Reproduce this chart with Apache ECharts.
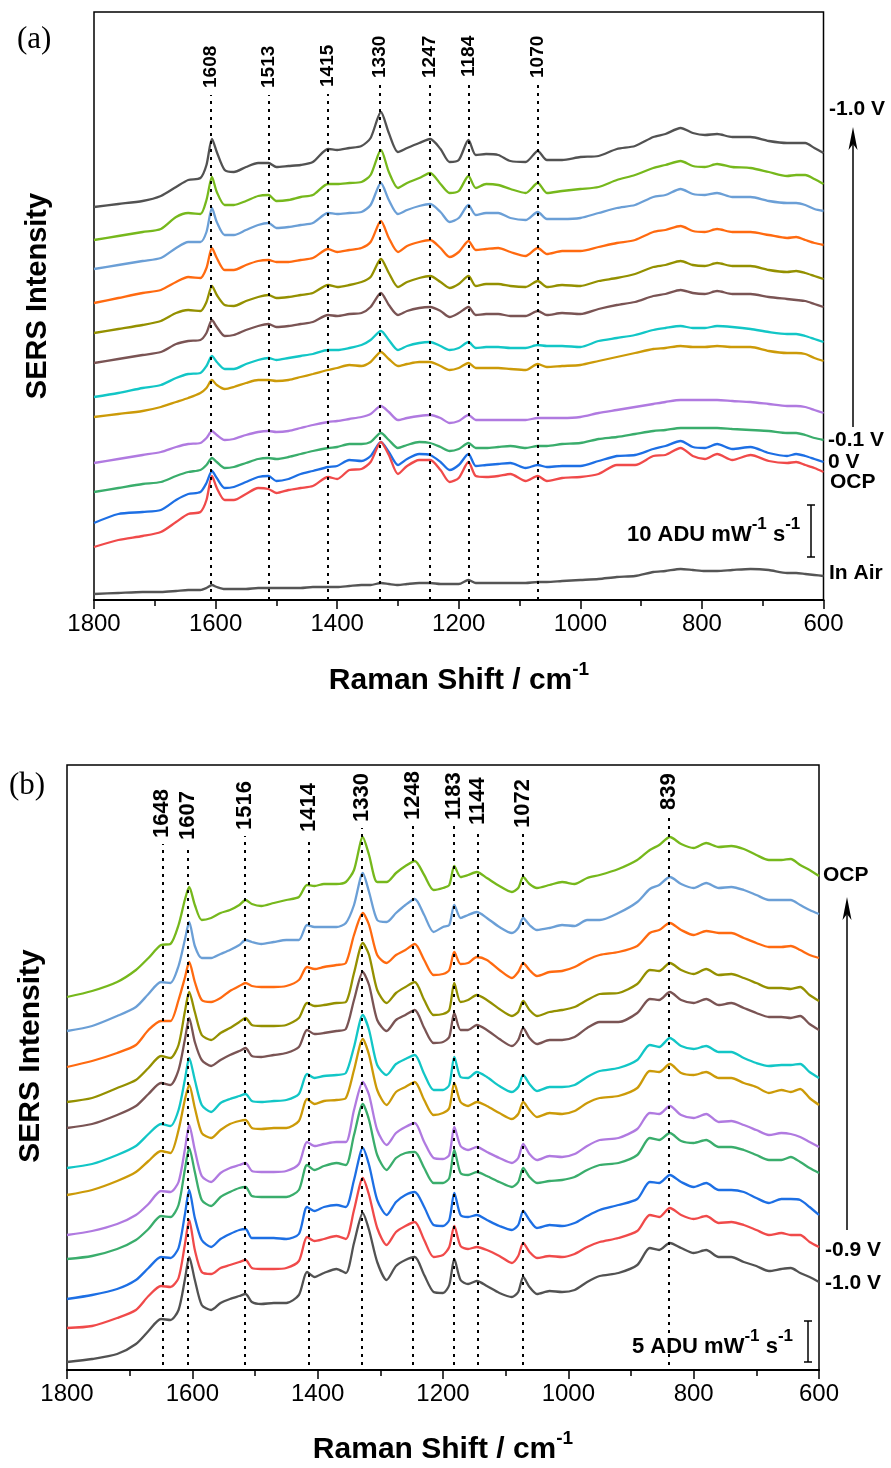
<!DOCTYPE html>
<html><head><meta charset="utf-8">
<script src="https://cdn.jsdelivr.net/npm/echarts@6/dist/echarts.min.js"></script>
<style>html,body{margin:0;padding:0;background:#fff}#c{width:891px;height:1468px}</style>
</head><body><div id="c"></div>
<script>
// ---------- Panel (a): Raman shift samples (cm-1) ----------
const wnA = [1800,1760,1720,1690,1665,1645,1625,1615,1606,1598,1585,1570,1550,1530,1513,1500,1480,1460,1440,1415,1400,1380,1360,1345,1328,1315,1300,1285,1265,1247,1230,1215,1200,1184,1172,1155,1135,1115,1090,1070,1055,1030,1000,970,940,910,880,860,835,815,795,775,750,720,690,660,645,630,615,600];
// intensities (arbitrary units, offset stacked as displayed)
const a_m10 = [393,396,399,404,413,420,422,435,461,448,430,428,433,437,437,433,434,435,438,451,450,452,454,462,488,467,448,452,457,461,451,438,440,460,445,446,445,439,438,449,440,440,443,444,451,454,463,466,472,467,465,466,463,463,459,457,457,457,452,447];
const a_m09 = [360,364,368,371,383,387,386,400,423,408,395,395,399,404,405,399,400,403,405,416,416,417,418,425,450,428,412,417,422,427,416,407,409,424,412,416,415,411,407,417,407,409,411,413,420,425,432,435,439,434,433,436,433,432,428,424,425,425,421,416];
const a_m08 = [331,335,339,342,352,358,358,368,392,378,365,365,370,375,377,372,373,375,377,387,386,387,388,395,417,400,386,390,394,396,388,378,382,395,385,387,387,382,380,388,381,381,382,387,392,395,403,405,411,406,405,407,403,403,399,397,397,395,391,389];
const a_m07 = [297,302,307,310,318,323,322,332,352,342,330,330,335,339,340,338,338,340,342,351,348,350,352,358,379,362,348,354,358,360,352,343,348,359,350,351,352,348,344,352,346,349,349,353,357,360,368,370,374,369,368,371,368,368,365,362,363,360,357,355];
const a_m06 = [267,271,275,279,287,290,289,298,314,305,295,294,299,303,305,302,303,305,307,315,313,315,318,323,341,327,313,318,322,324,318,312,316,324,314,316,316,314,313,319,313,315,314,319,322,326,333,335,339,335,334,337,334,334,330,328,329,327,324,321];
const a_m05 = [237,241,245,248,256,259,260,267,280,273,264,265,270,274,276,273,274,276,278,285,284,286,287,293,307,295,285,289,292,293,289,283,287,293,285,286,286,284,284,289,285,287,286,291,295,298,304,306,310,307,306,309,306,306,303,301,300,299,296,293];
const a_m04 = [203,207,212,215,222,226,227,234,244,238,231,231,236,240,242,240,242,244,246,250,250,252,255,260,269,260,250,254,257,258,254,250,252,258,252,253,253,252,252,255,254,254,253,259,262,265,270,272,274,272,272,274,273,271,268,266,266,264,261,258];
const a_m03 = [183,186,189,193,198,202,207,212,220,215,211,213,217,220,220,219,220,223,226,230,232,235,234,238,248,241,234,236,238,238,234,230,232,237,232,232,232,231,230,236,233,234,235,239,243,247,251,252,254,253,253,254,253,253,249,247,247,246,242,239];
const a_m02 = [137,141,145,148,153,156,157,162,169,165,160,161,165,168,169,168,169,172,175,178,179,181,183,186,194,188,180,182,184,185,182,177,179,185,180,180,180,180,180,182,182,182,183,187,190,193,196,198,200,200,200,200,199,198,196,194,194,193,190,187];
const a_m01 = [108,112,116,118,124,128,130,135,142,138,132,133,137,141,142,141,143,146,149,152,153,156,156,158,167,160,152,155,158,157,153,149,151,157,152,152,153,154,152,154,154,156,157,161,163,166,169,170,172,172,172,172,171,170,169,167,167,165,162,160];
const a_0V  = [77,86,88,90,100,106,108,117,129,122,112,113,118,123,124,119,121,126,129,133,134,140,139,144,158,148,135,141,146,145,138,130,135,146,134,135,136,137,132,135,133,134,134,139,144,145,151,154,159,153,152,156,151,153,147,144,146,144,141,138];
const a_ocp = [53,60,64,68,78,86,88,100,124,112,100,100,106,112,111,107,110,112,114,123,121,130,131,138,158,145,126,134,140,140,130,118,122,138,124,123,124,126,119,124,119,122,123,126,135,135,144,145,152,144,141,146,140,145,139,137,138,135,132,128];
const a_air = [6,7,8,8,9,10,10,12,15,13,11,11,11,12,12,12,12,12,13,13,13,14,15,15,17,16,15,16,17,17,16,16,16,20,17,17,17,17,17,18,18,19,20,21,23,24,28,29,31,30,29,29,30,31,30,27,27,26,25,24];
const peaksA = [1608,1513,1415,1330,1247,1184,1070];

// ---------- Panel (b) ----------
const wnB = [1800,1760,1720,1690,1670,1650,1635,1622,1612,1605,1596,1585,1570,1555,1540,1525,1515,1505,1490,1470,1450,1430,1417,1405,1390,1370,1355,1342,1328,1318,1305,1290,1275,1260,1245,1230,1215,1200,1190,1182,1172,1160,1146,1130,1110,1090,1080,1072,1062,1050,1030,1010,990,970,950,920,890,870,855,838,820,800,780,760,740,720,700,680,660,645,630,615,600];
const b_ocp = [373,379,388,400,412,425,426,445,470,483,465,450,452,457,460,465,470,466,464,467,470,473,485,484,486,486,488,500,533,515,488,488,497,504,509,495,480,482,485,504,493,495,498,492,484,478,482,493,486,482,485,488,486,492,495,501,510,520,525,533,526,522,527,523,524,521,515,510,510,511,505,500,494];
const b_0V  = [339,344,354,363,376,388,387,404,430,448,424,412,412,416,420,425,430,428,426,428,430,430,445,443,443,443,447,465,497,478,450,448,457,465,471,455,438,443,445,465,452,455,458,452,443,437,442,452,445,440,442,445,444,450,450,457,468,481,485,493,486,482,487,482,483,480,475,470,470,470,465,460,456];
const b_m01 = [303,309,317,325,340,349,349,370,392,408,388,370,368,372,379,384,387,384,383,383,384,390,403,401,403,405,407,435,457,445,415,407,415,420,426,410,395,396,400,418,406,407,413,410,400,392,398,407,400,394,398,399,403,410,415,418,424,437,440,447,440,435,439,437,437,432,427,423,423,424,420,415,412];
const b_m02 = [268,272,282,290,302,314,312,325,358,378,358,335,330,337,342,348,352,345,344,344,345,352,367,364,365,367,368,397,427,415,380,367,377,383,388,370,355,356,360,387,368,370,375,370,361,354,358,369,360,354,358,360,363,370,376,377,386,400,399,407,400,396,401,395,396,392,387,382,382,381,383,375,369];
const b_m03 = [242,246,255,264,276,287,285,300,330,352,328,310,304,310,315,319,322,314,313,315,317,323,340,336,337,339,341,370,398,385,350,339,350,355,360,342,327,328,333,357,340,340,345,340,331,324,330,342,332,326,330,330,333,342,348,348,357,371,370,378,370,367,371,365,367,362,357,353,353,352,354,346,340];
const b_m04 = [202,206,215,224,236,246,244,260,290,312,290,265,258,267,271,274,276,269,268,269,270,276,296,292,294,295,297,323,355,340,305,295,306,311,315,296,280,280,285,313,293,292,298,293,284,278,283,295,286,279,283,283,285,293,299,302,310,325,323,332,324,321,324,318,318,312,307,304,305,305,306,298,292];
const b_m05 = [175,180,189,198,209,219,217,240,270,285,262,237,232,240,246,249,250,242,241,242,242,249,271,266,269,270,272,300,331,315,280,265,278,283,288,270,255,257,262,287,268,264,268,264,257,251,256,268,260,253,257,256,259,267,272,274,282,299,298,306,297,295,298,292,292,287,283,277,280,278,281,272,265];
const b_m06 = [135,139,146,155,166,179,178,188,220,245,220,194,188,197,202,205,207,199,198,198,199,206,228,224,226,228,228,260,288,275,240,225,237,243,247,228,212,211,215,243,224,220,223,218,212,207,212,226,216,210,214,213,216,224,230,232,241,257,256,264,255,252,256,248,249,245,240,235,237,236,233,228,223];
const b_m07 = [111,114,121,130,141,154,153,165,200,222,198,170,164,173,178,182,183,174,173,173,173,180,205,200,204,207,205,235,266,250,215,200,212,217,218,202,187,187,192,220,197,195,198,194,188,183,188,202,193,187,189,190,193,200,205,207,215,232,230,237,229,227,230,223,223,220,215,210,210,213,208,202,197];
const b_m08 = [71,75,81,90,102,113,112,122,155,180,152,130,123,131,136,140,141,132,132,132,131,136,163,159,163,165,163,190,222,205,170,155,168,175,178,163,145,144,150,177,155,153,155,150,144,140,145,159,150,142,145,144,147,154,160,165,171,188,187,195,188,183,187,180,180,178,172,167,171,171,170,163,155];
const b_m09 = [42,44,52,60,74,84,83,92,125,150,120,98,96,102,105,108,110,102,101,101,102,109,133,129,131,134,131,160,192,175,142,125,138,144,148,130,113,115,123,144,124,121,123,120,114,107,114,127,118,112,114,113,116,123,128,132,139,155,153,162,155,151,154,147,148,145,140,135,137,135,135,128,123];
const b_m10 = [8,11,16,26,39,51,50,60,90,113,90,65,60,67,71,74,76,68,66,67,67,75,98,93,97,101,97,127,157,140,108,90,104,110,113,95,78,77,85,111,90,86,89,84,77,73,78,93,83,76,79,78,80,88,94,97,105,122,120,127,122,117,120,113,113,108,104,99,101,102,97,93,88];
const peaksB = [1648,1607,1516,1414,1330,1248,1183,1144,1072,839];

// ---------- styling / layout ----------
const colA = ['#525252','#76b81c','#6b9fd6','#ff6a10','#949000','#7a5454','#12c6c6','#cc9a08','#b07ae0','#3aad6c','#1d6fe4','#f04a4a','#555555'];
const seriesA = [a_m10,a_m09,a_m08,a_m07,a_m06,a_m05,a_m04,a_m03,a_m02,a_m01,a_0V,a_ocp,a_air];
const colB = ['#76b81c','#6b9fd6','#ff6a10','#949000','#7a5454','#12c6c6','#cc9a08','#b07ae0','#3aad6c','#1d6fe4','#f04a4a','#525252'];
const seriesB = [b_ocp,b_0V,b_m01,b_m02,b_m03,b_m04,b_m05,b_m06,b_m07,b_m08,b_m09,b_m10];

const FONT = '"Liberation Sans", Arial, sans-serif';
const chart = echarts.init(document.getElementById('c'), null, {renderer:'canvas'});

function xAx(gi){
  return {gridIndex:gi, type:'value', min:600, max:1800, interval:200, inverse:true,
    axisLine:{show:true, onZero:false, lineStyle:{color:'#000', width:2}},
    axisTick:{show:true, inside:false, length:9, lineStyle:{color:'#000', width:1.5}},
    minorTick:{show:true, splitNumber:2, length:6, lineStyle:{color:'#000', width:1.5}},
    axisLabel:{fontSize:24, fontFamily:FONT, color:'#000', margin:12, formatter:v=>String(v)},
    splitLine:{show:false}, minorSplitLine:{show:false}};
}
function mk(vals, wn, col, gi){
  return {type:'line', xAxisIndex:gi, yAxisIndex:gi, data: wn.map((x,i)=>[x, vals[i]]),
    showSymbol:false, smooth:0.25, lineStyle:{color:col, width:2.3}, itemStyle:{color:col},
    silent:true, animation:false, z:2};
}
const series = [];
seriesA.forEach((v,i)=>series.push(mk(v, wnA, colA[i], 0)));
seriesB.forEach((v,i)=>series.push(mk(v, wnB, colB[i], 1)));

chart.setOption({
  animation:false,
  grid:[
    {left:94, top:12, width:729.5, height:588, show:true, borderColor:'#000', borderWidth:1.5, backgroundColor:'transparent'},
    {left:67, top:765, width:752, height:605, show:true, borderColor:'#000', borderWidth:1.5, backgroundColor:'transparent'}
  ],
  xAxis:[xAx(0), xAx(1)],
  yAxis:[{gridIndex:0, type:'value', min:0, max:588, show:false},
         {gridIndex:1, type:'value', min:0, max:605, show:false}],
  series: series
});

// ---------- annotations ----------
const ctx = document.createElement('canvas').getContext('2d');
function tw(t, f){ ctx.font = f; return ctx.measureText(t).width; }
function bold(s){ return 'bold ' + s + 'px ' + FONT; }
function T(x, y, text, font, align, rot){
  return {type:'text', x:x, y:y, rotation:rot||0, silent:true, z:10,
    style:{text:text, font:font, fill:'#000', textAlign:align||'left', textVerticalAlign:'middle'}};
}
// pieces: [text, size, dy]
function line(x, cy, pieces, center){
  let total = 0; pieces.forEach(p=>{ total += tw(p[0], bold(p[1])); });
  let cx = center ? x - total/2 : x;
  const out = [];
  pieces.forEach(p=>{ out.push(T(cx, cy + (p[2]||0), p[0], bold(p[1]))); cx += tw(p[0], bold(p[1])); });
  return out;
}
function L(x1,y1,x2,y2,w){ return {type:'line', silent:true, z:10, shape:{x1,y1,x2,y2}, style:{stroke:'#000', lineWidth:w||1.5}}; }
function arrowUp(x, tip, bottom){
  return [L(x, tip+6, x, bottom, 1.5),
    {type:'polygon', silent:true, z:10, shape:{points:[[x,tip],[x-4.5,tip+23],[x,tip+17],[x+4.5,tip+23]]}, style:{fill:'#000'}}];
}
function scaleBar(x, y1, y2){
  return [L(x,y1,x,y2,1.5), L(x-4,y1,x+4,y1,1.5), L(x-4,y2,x+4,y2,1.5)];
}

const labBotA = [88,88,87,78,78,77,78];
const labBotB = [838,840,830,832,822,820,820,825,828,810];
const g = [];
const mlA = [], mlB = [];
peaksA.forEach((p,i)=>{
  const px = chart.convertToPixel({gridIndex:0}, [p, 0]);
  const top = chart.convertFromPixel({gridIndex:0}, [px[0], labBotA[i] + 7])[1];
  mlA.push([{coord:[p, 0]}, {coord:[p, top]}]);
  g.push(T(px[0], labBotA[i], String(p), bold(19), 'left', Math.PI/2));
});
peaksB.forEach((p,i)=>{
  const px = chart.convertToPixel({gridIndex:1}, [p, 0]);
  const top = chart.convertFromPixel({gridIndex:1}, [px[0], labBotB[i] + 6])[1];
  const bot = chart.convertFromPixel({gridIndex:1}, [px[0], 1365])[1];
  mlB.push([{coord:[p, bot]}, {coord:[p, top]}]);
  g.push(T(px[0], labBotB[i], String(p), bold(22), 'left', Math.PI/2));
});

// panel letters
g.push(T(17, 40, '(a)', '31px "Liberation Serif", "Times New Roman", serif'));
g.push(T(9, 786, '(b)', '31px "Liberation Serif", "Times New Roman", serif'));
// y titles
g.push(T(38, 296, 'SERS Intensity', bold(29), 'center', Math.PI/2));
g.push(T(31, 1056, 'SERS Intensity', bold(30), 'center', Math.PI/2));
// x titles
line(459, 681, [['Raman Shift / cm',30,0],['-1',19,-11]], true).forEach(e=>g.push(e));
line(443, 1450, [['Raman Shift / cm',30,0],['-1',19,-11]], true).forEach(e=>g.push(e));
// right labels panel a
g.push(T(829, 109, '-1.0 V', bold(21)));
g.push(T(828, 440, '-0.1 V', bold(21)));
g.push(T(828, 462, '0 V', bold(21)));
g.push(T(830, 482, 'OCP', bold(21)));
g.push(T(829, 573, 'In Air', bold(21)));
arrowUp(853, 127, 427).forEach(e=>g.push(e));
scaleBar(811, 505, 557).forEach(e=>g.push(e));
line(627, 535, [['10 ADU mW',22,0],['-1',17,-11],[' s',22,0],['-1',17,-11]]).forEach(e=>g.push(e));
// right labels panel b
g.push(T(823, 875, 'OCP', bold(21)));
g.push(T(825, 1250, '-0.9 V', bold(21)));
g.push(T(825, 1283, '-1.0 V', bold(21)));
arrowUp(847, 897, 1230).forEach(e=>g.push(e));
scaleBar(808, 1321, 1362).forEach(e=>g.push(e));
line(632, 1347, [['5 ADU mW',22,0],['-1',17,-11],[' s',22,0],['-1',17,-11]]).forEach(e=>g.push(e));

const mlStyle = {symbol:['none','none'], silent:true, animation:false, label:{show:false}, emphasis:{disabled:true},
  lineStyle:{color:'#000', type:[3,5], width:2}};
chart.setOption({
  graphic: g,
  series: series.concat([
    {type:'line', xAxisIndex:0, yAxisIndex:0, data:[], z:5, silent:true, markLine:Object.assign({data:mlA}, mlStyle)},
    {type:'line', xAxisIndex:1, yAxisIndex:1, data:[], z:5, silent:true, markLine:Object.assign({data:mlB}, mlStyle)}
  ])
});
</script></body></html>
